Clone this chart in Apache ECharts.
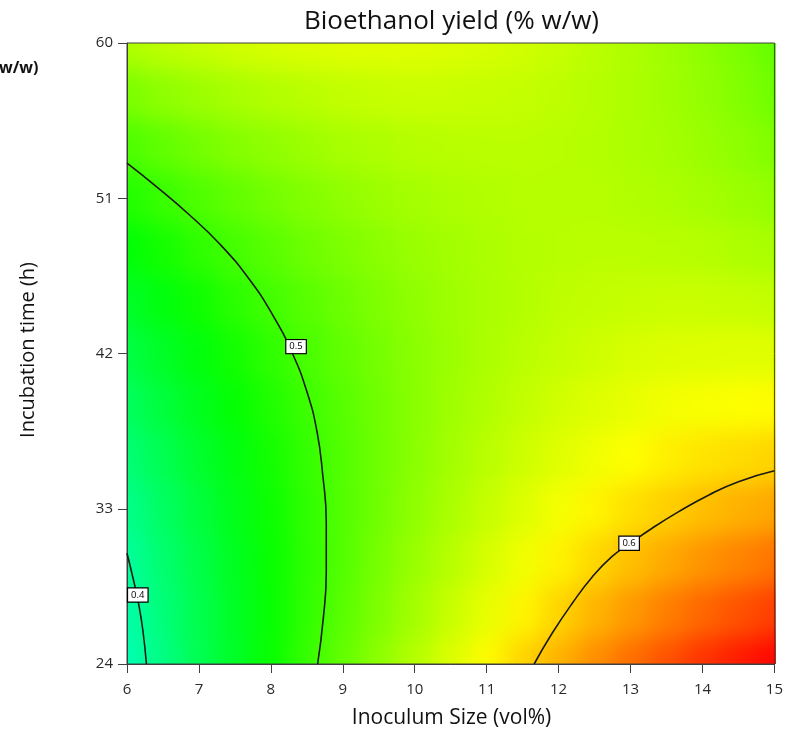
<!DOCTYPE html>
<html>
<head>
<meta charset="utf-8">
<title>Bioethanol yield contour</title>
<script src="https://cdn.jsdelivr.net/npm/echarts@6/dist/echarts.min.js"></script>
<style>
  html, body { margin: 0; padding: 0; background: #ffffff; }
  #wrap { position: relative; width: 786px; height: 742px; overflow: hidden; }
  #fieldClip { position: absolute; overflow: hidden; }
  #field { position: absolute; }
  #chart { position: absolute; left: 0; top: 0; width: 786px; height: 742px; }
</style>
</head>
<body>
<div id="wrap">
  <div id="fieldClip"><div id="field"></div></div>
  <div id="chart"></div>
</div>
<script>
// ---- data -----------------------------------------------------------------
// Inoculum size (vol%) and incubation time (h) at the grid nodes
const inoculum = [6, 6.5, 7, 7.5, 8, 8.5, 9, 9.5, 10, 10.5, 11, 11.5, 12, 12.5, 13, 13.5, 14, 14.5, 15];
const incubation = [24, 27, 30, 33, 36, 39, 42, 45, 48, 51, 54, 57, 60];

// Bioethanol yield (% w/w) along each incubation time, one value per inoculum node
const yield24 = [0.387, 0.410, 0.433, 0.454, 0.475, 0.495, 0.514, 0.532, 0.549, 0.565, 0.581, 0.596, 0.609, 0.622, 0.634, 0.645, 0.656, 0.665, 0.673];
const yield27 = [0.392, 0.414, 0.435, 0.455, 0.474, 0.492, 0.510, 0.526, 0.542, 0.557, 0.571, 0.584, 0.596, 0.608, 0.618, 0.628, 0.637, 0.645, 0.652];
const yield30 = [0.398, 0.419, 0.438, 0.457, 0.475, 0.491, 0.507, 0.523, 0.537, 0.550, 0.563, 0.574, 0.585, 0.595, 0.604, 0.612, 0.620, 0.626, 0.632];
const yield33 = [0.406, 0.425, 0.443, 0.460, 0.477, 0.492, 0.507, 0.520, 0.533, 0.545, 0.556, 0.566, 0.576, 0.584, 0.592, 0.598, 0.604, 0.609, 0.613];
const yield36 = [0.416, 0.433, 0.450, 0.465, 0.480, 0.494, 0.507, 0.519, 0.531, 0.541, 0.551, 0.559, 0.567, 0.574, 0.580, 0.586, 0.590, 0.593, 0.596];
const yield39 = [0.427, 0.443, 0.458, 0.472, 0.485, 0.498, 0.509, 0.520, 0.530, 0.539, 0.547, 0.554, 0.561, 0.566, 0.571, 0.575, 0.577, 0.579, 0.581];
const yield42 = [0.439, 0.454, 0.467, 0.480, 0.492, 0.503, 0.513, 0.522, 0.531, 0.538, 0.545, 0.551, 0.555, 0.559, 0.563, 0.565, 0.566, 0.567, 0.567];
const yield45 = [0.453, 0.466, 0.478, 0.490, 0.500, 0.509, 0.518, 0.526, 0.533, 0.539, 0.544, 0.548, 0.552, 0.554, 0.556, 0.557, 0.557, 0.556, 0.554];
const yield48 = [0.469, 0.480, 0.491, 0.501, 0.509, 0.518, 0.525, 0.531, 0.537, 0.541, 0.545, 0.548, 0.550, 0.551, 0.551, 0.550, 0.549, 0.546, 0.543];
const yield51 = [0.486, 0.496, 0.505, 0.513, 0.521, 0.527, 0.533, 0.538, 0.542, 0.545, 0.547, 0.549, 0.549, 0.549, 0.547, 0.545, 0.542, 0.538, 0.534];
const yield54 = [0.504, 0.513, 0.521, 0.528, 0.533, 0.538, 0.543, 0.546, 0.549, 0.550, 0.551, 0.551, 0.550, 0.548, 0.545, 0.542, 0.537, 0.532, 0.526];
const yield57 = [0.524, 0.532, 0.538, 0.543, 0.548, 0.551, 0.554, 0.556, 0.557, 0.557, 0.556, 0.555, 0.552, 0.549, 0.545, 0.540, 0.534, 0.527, 0.519];
const yield60 = [0.546, 0.552, 0.556, 0.560, 0.563, 0.565, 0.567, 0.567, 0.567, 0.565, 0.563, 0.560, 0.556, 0.551, 0.546, 0.539, 0.532, 0.524, 0.514];
const yieldRows = [yield24, yield27, yield30, yield33, yield36, yield39, yield42, yield45, yield48, yield51, yield54, yield57, yield60];

// Iso-yield lines: [inoculum, incubation time]
const contour04 = [[6.00, 30.42], [6.09, 28.87], [6.16, 27.52], [6.22, 25.97], [6.27, 24.00]];
const contour05 = [[6.00, 53.03], [6.40, 51.70], [6.85, 50.10], [7.30, 48.30], [7.70, 46.30], [8.03, 44.20],
                   [8.30, 42.00], [8.50, 39.80], [8.64, 37.50], [8.72, 35.00], [8.77, 32.20],
                   [8.77, 29.30], [8.73, 26.70], [8.65, 24.00]];
const contour06 = [[11.66, 24.00], [11.91, 25.78], [12.19, 27.52], [12.47, 29.06], [12.74, 30.22], [12.98, 30.95],
                   [13.30, 31.87], [13.67, 32.83], [14.09, 33.80], [14.50, 34.57], [15.00, 35.20]];
const contourLevels = [0.4, 0.5, 0.6];
// where each level's tag sits on its line
const contourTagAt = [[6.15, 28.0], [8.35, 42.4], [12.98, 31.0]];

// Axis ticks
const xTicks = [6, 7, 8, 9, 10, 11, 12, 13, 14, 15];
const yTicks = [24, 33, 42, 51, 60];

// ---- layout ---------------------------------------------------------------
const PLOT = { left: 127, top: 43, width: 649, height: 621 };
const FONT = '"Open Sans", "Noto Sans", sans-serif';
const AXIS_COLOR = '#404040';
const SOFTEN = 12;   // smoothing radius of the colour field, px

// Colour ramp: cyan -> green -> yellow -> red over the yield range
const rampStops = [[0.35, [0, 255, 255]], [0.472, [0, 255, 0]], [0.58, [255, 255, 0]], [0.675, [255, 0, 0]]];
const RAMP_MIN = rampStops[0][0], RAMP_MAX = rampStops[rampStops.length - 1][0];
function rampColor(v) {
  for (let i = 0; i < rampStops.length - 1; i++) {
    const [v0, c0] = rampStops[i], [v1, c1] = rampStops[i + 1];
    if (v <= v1 || i === rampStops.length - 2) {
      const t = Math.max(0, Math.min(1, (v - v0) / (v1 - v0)));
      const c = c0.map((k, j) => Math.round(k + (c1[j] - k) * t));
      return 'rgb(' + c.join(',') + ')';
    }
  }
}
const palette = [];
for (let i = 0; i <= 65; i++) palette.push(rampColor(RAMP_MIN + (RAMP_MAX - RAMP_MIN) * i / 65));

// ---- colour field: node-centred heatmap cells, mirrored on all sides ------
// The field canvas holds a 3x3 tiling (centre tile + mirror images) so that the
// smoothing filter sees continuous colour right up to the plot border.
const cellW = PLOT.width / (inoculum.length - 1);
const cellH = PLOT.height / (incubation.length - 1);
const spanW = PLOT.width + cellW, spanH = PLOT.height + cellH;

const clip = document.getElementById('fieldClip');
Object.assign(clip.style, { left: PLOT.left + 'px', top: PLOT.top + 'px', width: PLOT.width + 'px', height: PLOT.height + 'px' });
const fieldEl = document.getElementById('field');
Object.assign(fieldEl.style, {
  left: (-cellW / 2 - spanW) + 'px', top: (-cellH / 2 - spanH) + 'px',
  width: (3 * spanW) + 'px', height: (3 * spanH) + 'px',
  filter: 'blur(' + SOFTEN + 'px)'
});

const cells = [];
yieldRows.forEach((row, r) => row.forEach((v, c) => cells.push([c, r, v])));

const fGrids = [], fX = [], fY = [], fSeries = [];
let gi = 0;
for (let row = 0; row < 3; row++) {
  for (let col = 0; col < 3; col++) {
    fGrids.push({ left: col * spanW, top: row * spanH, width: spanW, height: spanH });
    fX.push({ type: 'category', gridIndex: gi, data: inoculum.map(String), show: false, inverse: col !== 1 });
    fY.push({ type: 'category', gridIndex: gi, data: incubation.map(String), show: false, inverse: row !== 1 });
    fSeries.push({ type: 'heatmap', xAxisIndex: gi, yAxisIndex: gi, data: cells.map(d => d.slice()), silent: true,
                   itemStyle: { borderWidth: 0 }, emphasis: { disabled: true } });
    gi++;
  }
}
const field = echarts.init(fieldEl);
field.setOption({
  animation: false,
  grid: fGrids, xAxis: fX, yAxis: fY,
  visualMap: { show: false, type: 'continuous', min: RAMP_MIN, max: RAMP_MAX,
               seriesIndex: fSeries.map((_, i) => i), inRange: { color: palette } },
  series: fSeries
});

// ---- axes, iso-lines and titles -----------------------------------------
const chart = echarts.init(document.getElementById('chart'));
const axisCommon = {
  type: 'value',
  axisLine: { show: true, lineStyle: { color: AXIS_COLOR, width: 1 } },
  axisTick: { show: true, inside: false, length: 9, lineStyle: { color: AXIS_COLOR, width: 1 } },
  splitLine: { show: false },
  axisLabel: { color: '#2a2a2a', fontSize: 15, fontFamily: FONT }
};
const lineStyle = { color: '#1a1a1a', width: 1.6 };
const contours = [contour04, contour05, contour06];

chart.setOption({
  animation: false,
  backgroundColor: 'transparent',
  grid: { left: PLOT.left, top: PLOT.top, width: PLOT.width, height: PLOT.height,
          show: true, borderColor: AXIS_COLOR, borderWidth: 1, backgroundColor: 'transparent' },
  xAxis: Object.assign({}, axisCommon, {
    min: xTicks[0], max: xTicks[xTicks.length - 1], interval: xTicks[1] - xTicks[0],
    axisLabel: Object.assign({}, axisCommon.axisLabel, { margin: 18 })
  }),
  yAxis: Object.assign({}, axisCommon, {
    min: yTicks[0], max: yTicks[yTicks.length - 1], interval: yTicks[1] - yTicks[0],
    axisLabel: Object.assign({}, axisCommon.axisLabel, { margin: 14 })
  }),
  series: contours.map((pts, i) => ({
    type: 'line', name: 'Yield ' + contourLevels[i], data: pts, smooth: 0.5,
    symbol: 'none', silent: true, lineStyle: lineStyle, z: 3
  })).concat([{
    type: 'scatter', name: 'levels', silent: true, z: 5,
    data: contourTagAt.map((p, i) => [p[0], p[1], contourLevels[i]]),
    symbolSize: 1, itemStyle: { color: 'rgba(0,0,0,0)', opacity: 1 },
    label: {
      show: true, position: 'inside', opacity: 1,
      formatter: p => p.value[2].toFixed(1),
      fontSize: 9.5, fontFamily: FONT, color: '#000',
      backgroundColor: '#ffffff', borderColor: '#000', borderWidth: 1.2, padding: [2, 3, 1, 3]
    }
  }]),
  graphic: [
    { type: 'text', x: PLOT.left + PLOT.width / 2, y: 22,
      style: { text: 'Bioethanol yield (% w/w)', font: '26px ' + FONT, fill: '#111',
               textAlign: 'center', textVerticalAlign: 'middle' } },
    { type: 'text', x: PLOT.left + PLOT.width / 2, y: 718,
      style: { text: 'Inoculum Size (vol%)', font: '21px ' + FONT, fill: '#111',
               textAlign: 'center', textVerticalAlign: 'middle' } },
    { type: 'text', x: 28, y: 350, rotation: Math.PI / 2,
      style: { text: 'Incubation time (h)', font: '20px ' + FONT, fill: '#111',
               textAlign: 'center', textVerticalAlign: 'middle' } },
    { type: 'text', x: -1, y: 68,
      style: { text: 'w/w)', font: 'bold 16px ' + FONT, fill: '#111',
               textAlign: 'left', textVerticalAlign: 'middle' } }
  ]
});
</script>
</body>
</html>
